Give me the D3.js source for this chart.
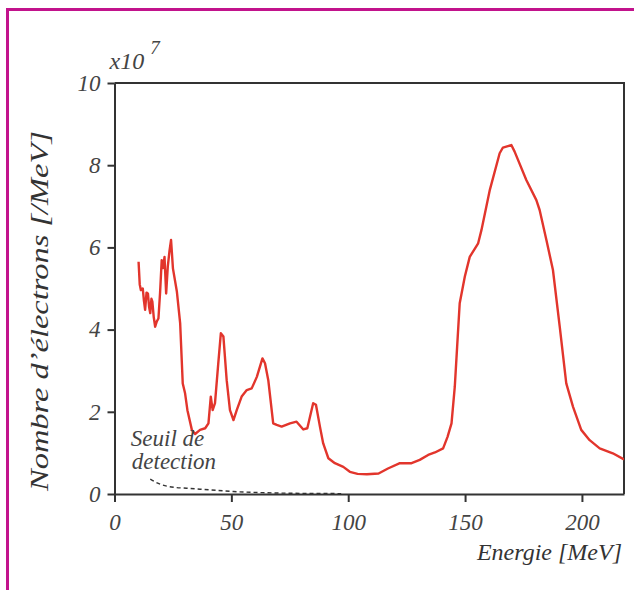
<!DOCTYPE html>
<html>
<head>
<meta charset="utf-8">
<script src="https://cdnjs.cloudflare.com/ajax/libs/d3/7.8.5/d3.min.js"></script>
<style>
    body { margin: 0; background: #fff; }
    text { font-family: "Liberation Serif", "DejaVu Serif", serif; font-style: italic; }
</style>
</head>
<body>
<div id="grafico"></div>
<script>
// energie (MeV) et nombre d'electrons (x10^7 / MeV)
var energie = [10.3, 10.8, 11.3, 12.1, 12.6, 13.1, 13.7, 14.3, 14.8, 15.3, 15.8, 16.2, 16.8, 17.4, 18.1, 18.8,
    19.5, 20.2, 20.8, 21.4, 22.1, 22.8, 23.5, 24.2, 25.0, 26.7, 28.1, 29.2, 30.2, 31.2, 33.1, 34.5, 36.6,
    38.8, 40.2, 41.2, 42.0, 43.0, 44.4, 45.5, 46.6, 48.0, 49.4, 50.9, 52.3, 54.4, 56.6, 58.7, 60.9, 63.3,
    64.4, 65.8, 67.9, 69.4, 71.5, 75.1, 77.9, 80.8, 82.5, 85.0, 86.2, 87.9, 89.3, 91.5, 94.3, 97.9, 100.7,
    104, 108, 113, 117, 122.1, 127.1, 130.6, 134.2, 137.1, 140.6, 142.5, 144.2, 145.6, 146.6, 147.7, 149.9,
    152.0, 155.6, 157.0, 160.6, 164.8, 166.2, 169.8, 171.2, 176.2, 180.5, 181.9, 184.8, 187.6, 190.5, 193.3,
    196.2, 199.7, 203.3, 207.6, 213.2, 218];
var electrons = [5.65, 5.1, 4.96, 5.0, 4.7, 4.48, 4.9, 4.88, 4.55, 4.40, 4.75, 4.68, 4.3, 4.07, 4.2, 4.27,
    4.9, 5.69, 5.5, 5.77, 4.88, 5.53, 5.9, 6.18, 5.49, 4.92, 4.15, 2.69, 2.45, 2.04, 1.56, 1.46, 1.56,
    1.60, 1.72, 2.37, 2.04, 2.21, 3.18, 3.91, 3.83, 2.77, 2.04, 1.80, 2.04, 2.37, 2.53, 2.57, 2.85, 3.30,
    3.18, 2.77, 1.72, 1.68, 1.64, 1.72, 1.76, 1.57, 1.60, 2.21, 2.17, 1.64, 1.23, 0.87, 0.75, 0.66, 0.54,
    0.49, 0.48, 0.50, 0.62, 0.75, 0.75, 0.83, 0.95, 1.01, 1.11, 1.39, 1.72, 2.61, 3.58, 4.64, 5.29,
    5.77, 6.10, 6.42, 7.40, 8.29, 8.43, 8.49, 8.33, 7.64, 7.15, 6.91, 6.18, 5.45, 4.07, 2.69,
    2.12, 1.56, 1.31, 1.11, 0.99, 0.84];

// seuil de detection (pointilles)
var seuilEnergie = [15.3, 19, 22.4, 26, 30.9, 40.9, 50.9, 65.1, 80, 97];
var seuilValeur = [0.36, 0.25, 0.19, 0.16, 0.14, 0.10, 0.06, 0.03, 0.015, 0.01];

var xTicks = [0, 50, 100, 150, 200];
var yTicks = [0, 2, 4, 6, 8, 10];

function createSpectre(containerId, m, h, w) {
    var root = d3.select(containerId).append("svg")
        .attr("width", 634)
        .attr("height", 590);

    // cadre magenta
    root.append("path")
        .attr("d", "M7.5,590 L7.5,9.5 L634,9.5")
        .attr("fill", "none")
        .attr("stroke", "#c2138c")
        .attr("stroke-width", 3);

    var svg = root.append("g")
        .attr("transform", "translate(" + m.left + "," + m.top + ")");

    var x = d3.scaleLinear().domain([0, 218]).range([0, w]);
    var y = d3.scaleLinear().domain([0, 10]).range([h, 0]);

    svg.append("defs").append("clipPath")
        .attr("id", "zone")
        .append("rect")
        .attr("width", w)
        .attr("height", h);

    var xAxis = d3.axisBottom(x).tickValues(xTicks).tickSize(8).tickSizeOuter(0).tickPadding(12);
    var yAxis = d3.axisLeft(y).tickValues(yTicks).tickSize(7).tickSizeOuter(0).tickPadding(7);

    var gx = svg.append("g")
        .attr("transform", "translate(0," + h + ")")
        .call(xAxis);
    var gy = svg.append("g").call(yAxis);

    [gx, gy].forEach(function(g) {
        g.select(".domain").attr("stroke", "#333").attr("stroke-width", 2);
        g.selectAll(".tick line").attr("stroke", "#333").attr("stroke-width", 2);
        g.selectAll(".tick text")
            .attr("fill", "#444")
            .style("font-size", "23px")
            .style("font-family", "Liberation Serif")
            .style("font-style", "italic");
    });
    gx.selectAll(".tick text").attr("dy", "0.71em");

    // haut et droite du cadre
    svg.append("path")
        .attr("d", "M0,0 L" + w + ",0 L" + w + "," + h)
        .attr("fill", "none")
        .attr("stroke", "#333")
        .attr("stroke-width", 2);

    var data = energie.map(function(e, i) { return [e, electrons[i]]; });
    var seuil = seuilEnergie.map(function(e, i) { return [e, seuilValeur[i]]; });

    var line = d3.line()
        .x(function(d) { return x(d[0]); })
        .y(function(d) { return y(d[1]); });

    svg.append("path")
        .datum(seuil)
        .attr("d", line.curve(d3.curveMonotoneX))
        .attr("fill", "none")
        .attr("stroke", "#333")
        .attr("stroke-width", 1.4)
        .attr("stroke-dasharray", "4,3");

    svg.append("path")
        .datum(data)
        .attr("clip-path", "url(#zone)")
        .attr("d", line.curve(d3.curveLinear))
        .attr("fill", "none")
        .attr("stroke", "#e2352c")
        .attr("stroke-width", 2.4)
        .attr("stroke-linejoin", "round");

    // textes
    svg.append("text")
        .attr("x", x(7))
        .attr("y", y(1.17))
        .attr("fill", "#444")
        .style("font-size", "23px")
        .text("Seuil de");
    svg.append("text")
        .attr("x", x(7.4))
        .attr("y", y(0.61))
        .attr("fill", "#444")
        .style("font-size", "23px")
        .text("detection");

    svg.append("text")
        .attr("x", w - 2)
        .attr("y", h + 66)
        .attr("text-anchor", "end")
        .attr("fill", "#333")
        .style("font-size", "24px")
        .text("Energie [MeV]");

    svg.append("text")
        .attr("transform", "rotate(-90)")
        .attr("x", -228)
        .attr("y", 0 - m.left + 48)
        .attr("text-anchor", "middle")
        .attr("fill", "#333")
        .attr("textLength", 360)
        .attr("lengthAdjust", "spacingAndGlyphs")
        .style("font-size", "25px")
        .text("Nombre d\u2019\u00e9lectrons [/MeV]");

    var ex = svg.append("text")
        .attr("x", -5)
        .attr("y", -14)
        .attr("fill", "#444")
        .style("font-size", "24px");
    ex.append("tspan").text("x10");
    ex.append("tspan").attr("dx", 6).attr("dy", -15).style("font-size", "19px").text("7");
}

var m = {top: 83, right: 10, bottom: 96, left: 114.5}
    , h = 494 - m.top
    , w = 624 - m.left;

createSpectre("#grafico", m, h, w);
</script>
</body>
</html>
